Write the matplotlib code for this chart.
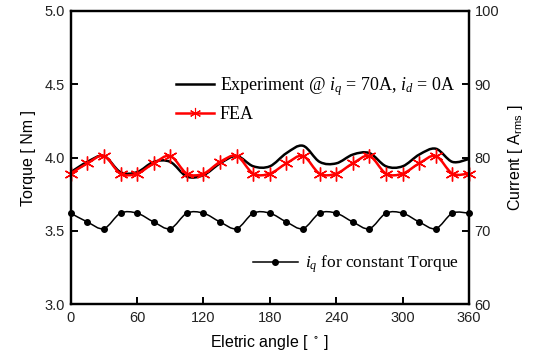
import matplotlib.pyplot as plt
import numpy as np
from matplotlib.path import Path
from matplotlib.patches import PathPatch
from matplotlib.lines import Line2D

plt.rcParams['font.family'] = ['Liberation Sans', 'DejaVu Sans']
plt.rcParams['mathtext.fontset'] = 'custom'
plt.rcParams['mathtext.rm'] = 'Liberation Serif'
plt.rcParams['mathtext.it'] = 'Liberation Serif:italic'
plt.rcParams['mathtext.default'] = 'regular'

# electric angle, every 15 degrees
angle = np.arange(0, 361, 15)

torque_exp = [3.90, 3.97, 4.01, 3.90, 3.90, 3.97, 3.97, 3.87, 3.88, 3.96, 4.01, 3.94, 3.94,
              4.03, 4.08, 3.97, 3.96, 4.02, 4.03, 3.94, 3.94, 4.02, 4.06, 3.97, 3.99]
# FEA torque (Nm)
torque_fea = [3.89, 3.96, 4.01, 3.89, 3.89, 3.96, 4.01, 3.89, 3.89, 3.97, 4.01, 3.89, 3.89,
              3.96, 4.01, 3.89, 3.89, 3.96, 4.01, 3.89, 3.89, 3.96, 4.01, 3.89, 3.89]
# iq for constant torque (A rms)
iq_const = [72.4, 71.2, 70.3, 72.4, 72.4, 71.2, 70.3, 72.4, 72.4, 71.2, 70.3, 72.4, 72.4,
            71.2, 70.3, 72.4, 72.4, 71.2, 70.3, 72.4, 72.4, 71.2, 70.3, 72.4, 72.4]

label_exp = r'Experiment @ $\mathit{i}_{\mathit{q}}$ = 70A, $\mathit{i}_{\mathit{d}}$ = 0A'
label_fea = 'FEA'
label_iq = r'$\mathit{i}_{\mathit{q}}$ for constant Torque'


def spline_patch(ax, x, y, **kw):
    # smooth (spline-style) connection through the data points, drawn as bezier path
    x = np.asarray(x, float)
    y = np.asarray(y, float)
    p = np.column_stack([x, y])
    ext = np.vstack([p[0], p, p[-1]])
    verts = [p[0]]
    codes = [Path.MOVETO]
    for i in range(len(p) - 1):
        p0, p1, p2, p3 = ext[i], ext[i + 1], ext[i + 2], ext[i + 3]
        verts += [p1 + (p2 - p0) / 6, p2 - (p3 - p1) / 6, p2]
        codes += [Path.CURVE4] * 3
    patch = PathPatch(Path(verts, codes), fill=False, transform=ax.transData, **kw)
    ax.add_patch(patch)
    return patch


fig = plt.figure(figsize=(5.37, 3.58), dpi=100)
ax = fig.add_axes([0.1317, 0.1508, 0.7417, 0.8185])
ax2 = ax.twinx()

spline_patch(ax, angle, torque_exp, edgecolor='black', lw=1.8, zorder=3)
spline_patch(ax, angle, torque_fea, edgecolor='red', lw=1.8, zorder=4)
ax.plot(angle, torque_fea, ls='none', marker=(6, 2, 0), ms=10, mec='red', mew=1.0,
        zorder=5, clip_on=False)

spline_patch(ax2, angle, iq_const, edgecolor='black', lw=1.1, zorder=3)
ax2.plot(angle, iq_const, ls='none', marker='o', ms=4, color='black', zorder=4, clip_on=False)

ax.set_xlim(0, 360)
ax.set_ylim(3.0, 5.0)
ax2.set_ylim(60, 100)
ax.set_xticks(np.arange(0, 361, 60))
ax.set_yticks(np.arange(3.0, 5.01, 0.5))
ax.set_yticklabels([f'{v:.1f}' for v in np.arange(3.0, 5.01, 0.5)])
ax2.set_yticks(np.arange(60, 101, 10))

for a in (ax, ax2):
    for s in a.spines.values():
        s.set_linewidth(1.6)
    a.tick_params(direction='in', length=5, width=1.4, labelsize=10.5, labelcolor='#222222')
ax.tick_params(axis='x', pad=5)
ax.tick_params(axis='y', right=False, pad=4)
ax2.tick_params(axis='y', pad=4)

ax.set_xlabel(r'Eletric angle [ $^\circ$ ]', fontsize=11.5, labelpad=6)
ax.set_ylabel('Torque [ Nm ]', fontsize=11.5, labelpad=6)
ax2.set_ylabel(r'Current [ A$_{rms}$ ]', fontsize=11.5, labelpad=5)

h1 = [Line2D([], [], color='black', lw=1.8),
      Line2D([], [], color='red', lw=1.8, marker=(6, 2, 0), ms=8, mew=0.8)]
leg1 = ax2.legend(h1, [label_exp, label_fea], loc='upper left', bbox_to_anchor=(0.247, 0.805),
                  frameon=False, handlelength=2.1, handletextpad=0.3, labelspacing=0.42,
                  prop={'family': 'Liberation Serif', 'size': 13}, borderaxespad=0)
ax2.add_artist(leg1)

h2 = [Line2D([], [], color='black', lw=1.1, marker='o', ms=4)]
ax2.legend(h2, [label_iq], loc='upper left', bbox_to_anchor=(0.44, 0.195),
           frameon=False, handlelength=2.6, handletextpad=0.4,
           prop={'family': 'Liberation Serif', 'size': 12.5}, borderaxespad=0)

fig.savefig('out.png', dpi=100)
